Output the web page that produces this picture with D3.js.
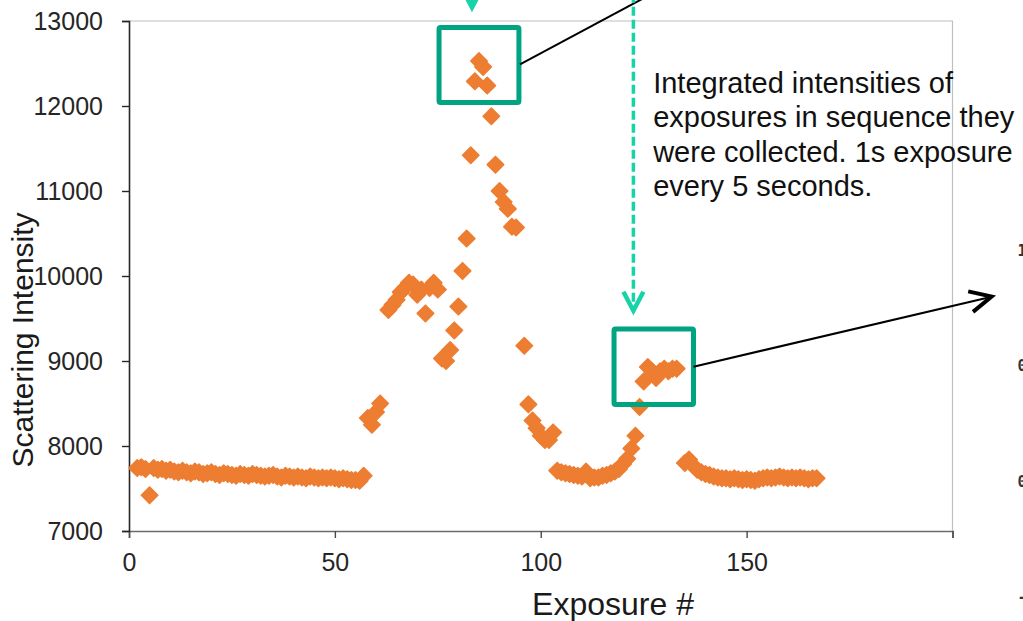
<!DOCTYPE html>
<html><head><meta charset="utf-8">
<script src="https://cdn.jsdelivr.net/npm/d3@7"></script>
<style>html,body{margin:0;padding:0;background:#fff;} svg{display:block;}</style>
</head><body>
<svg id="chart" width="1023" height="621"></svg>
<script>
// ---------- data ----------
const exposures = [
  2,3,4,5,6,7,8,9,10,11,12,13,14,15,16,17,18,19,20,21,22,23,24,25,26,27,28,29,30,
  31,32,33,34,35,36,37,38,39,40,41,42,43,44,45,46,47,48,49,50,51,52,53,54,55,56,57,
  58,59,60,61,63,64,65,66,67,68,69,70,71,72,73,74,75,76,77,78,79,80,81,82,83,84,85,
  86,87,88,89,90,91,92,93,94,96,97,98,99,100,101,102,103,
  104,105,106,107,108,109,110,111,112,113,114,115,116,117,118,119,120,121,122,123,
  124,125,126,127,128,129,130,131,132,133,
  135,136,137,138,139,140,141,142,143,144,145,146,147,148,149,150,151,152,153,154,
  155,156,157,158,159,160,161,162,163,164,165,166,167
];
const intensities = [
  7740,7750,7730,7420,7740,7720,7730,7710,7720,7700,7690,7710,7690,7680,7700,7690,7670,7680,7690,7670,7660,7680,7670,7660,7650,7670,7660,7650,7670,
  7660,7650,7640,7650,7660,7640,7630,7650,7640,7630,7640,7630,7620,7640,7630,7620,7630,7620,7630,7620,7610,7620,7610,7600,7600,7590,7650,
  8330,8250,8400,8500,9600,9660,9720,9810,9860,9920,9900,9780,9840,9560,9860,9920,9840,9030,9000,9130,9360,9640,10060,10440,11420,12290,12530,
  12460,12240,11880,11310,11000,10870,10790,10580,10570,9180,8490,8300,8210,8120,8070,8070,8160,
  7710,7690,7680,7670,7660,7650,7640,7700,7620,7630,7630,7650,7660,7680,7700,7730,7790,7850,7970,8120,
  8460,8760,8930,8880,8800,8880,8910,8880,8910,8910,
  7800,7840,7770,7720,7690,7670,7660,7640,7630,7620,7620,7610,7620,7610,7600,7610,7600,7590,7610,7620,
  7630,7620,7630,7640,7630,7620,7630,7620,7630,7620,7610,7620,7620
];
const xTicks = [0, 50, 100, 150, 200];
const xTickLabels = ["0", "50", "100", "150", ""];
const yTicks = [7000, 8000, 9000, 10000, 11000, 12000, 13000];
const xTitle = "Exposure #";
const yTitle = "Scattering Intensity";
const noteLines = ["Integrated intensities of", "exposures in sequence they", "were collected. 1s exposure", "every 5 seconds."];
const sideLabels = ["1", "0", "0", "-"];

// annotation geometry in data units
const boxes = [
  {x0: 75.3, x1: 94.7, y0: 12041, y1: 12924},
  {x0: 117.8, x1: 137.1, y0: 8488, y1: 9376}
];
const pointerLine = {x0: 94.96, y0: 12490, x1: 138.7, y1: 13624};
const pointerArrow = {x0: 137.1, y0: 8933, x1: 209.5, y1: 9757};
const cyanArrows = [
  {x: 122.5, yTop: 13320, yTip: 9580},
  {x: 83.3, yTop: 13600, yTip: 13147}
];
const note = {x: 127.3, y: 12157};
const sideLabelX = 215.8;
const sideLabelY = [10230, 8880, 7515, 6160];

// ---------- layout ----------
const svg = d3.select("#chart");
const x = d3.scaleLinear().domain([0, 200]).range([129, 952.5]);
const y = d3.scaleLinear().domain([7000, 13000]).range([531, 21]);
const font = "'Liberation Sans', Arial, sans-serif";

// plot border (top & right)
svg.append("path")
  .attr("d", `M${x(0)},${y(13000)}H${x(200)}V${y(7000)}`)
  .attr("fill", "none").attr("stroke", "#bfbfbf").attr("stroke-width", 1.2);

// axes
const xAxis = svg.append("g").attr("transform", `translate(0,${y(7000)})`)
  .call(d3.axisBottom(x).tickValues(xTicks).tickSize(7).tickPadding(15).tickFormat((d, i) => xTickLabels[i]));
xAxis.select(".domain").attr("stroke", "#6b6b6b").attr("stroke-width", 1.6);
xAxis.selectAll(".tick line").attr("stroke", "#4a4a4a").attr("stroke-width", 1.4);
xAxis.selectAll("text").attr("font-family", font).attr("font-size", 25).attr("fill", "#262626");

const yAxis = svg.append("g").attr("transform", `translate(${x(0)},0)`)
  .call(d3.axisLeft(y).tickValues(yTicks).tickSize(7).tickPadding(19).tickFormat(d3.format("d")));
yAxis.select(".domain").attr("stroke", "#262626").attr("stroke-width", 1.6);
yAxis.selectAll(".tick line").attr("stroke", "#262626").attr("stroke-width", 1.4);
yAxis.selectAll("text").attr("font-family", font).attr("font-size", 25).attr("fill", "#262626");

// titles
svg.append("text").attr("x", 613).attr("y", 615).attr("text-anchor", "middle")
  .attr("font-family", font).attr("font-size", 32).attr("fill", "#1a1a1a").text(xTitle);
svg.append("text").attr("transform", "translate(33,340) rotate(-90)").attr("text-anchor", "middle")
  .attr("font-family", font).attr("font-size", 30).attr("fill", "#1a1a1a").text(yTitle);

// data points (diamonds)
const diamond = { draw(ctx, size) { const r = Math.sqrt(size / 2);
  ctx.moveTo(0, -r); ctx.lineTo(r, 0); ctx.lineTo(0, r); ctx.lineTo(-r, 0); ctx.closePath(); } };
const pts = exposures.map((e, i) => ({e, v: intensities[i]}));
svg.append("g").selectAll("path").data(pts).join("path")
  .attr("transform", d => `translate(${x(d.e)},${y(d.v)})`)
  .attr("d", d3.symbol().type(diamond).size(2 * 8.2 * 8.2))
  .attr("fill", "#ED7D31").attr("stroke", "#ED7D31").attr("stroke-width", 1.6).attr("stroke-linejoin", "round");

// side labels (clipped neighbour chart at the right edge)
svg.append("g").selectAll("text").data(sideLabels).join("text")
  .attr("x", x(sideLabelX)).attr("y", (d, i) => y(sideLabelY[i]))
  .attr("font-family", "'DejaVu Sans Mono', monospace").attr("font-weight", "bold")
  .attr("font-size", 15).attr("fill", "#333").text(d => d);

// green boxes
svg.append("g").selectAll("rect").data(boxes).join("rect")
  .attr("x", d => x(d.x0)).attr("y", d => y(d.y1))
  .attr("width", d => x(d.x1) - x(d.x0)).attr("height", d => y(d.y0) - y(d.y1))
  .attr("rx", 1.5).attr("fill", "none").attr("stroke", "#00A481").attr("stroke-width", 5);

// pointer line from box 1
svg.append("line").attr("x1", x(pointerLine.x0)).attr("y1", y(pointerLine.y0))
  .attr("x2", x(pointerLine.x1)).attr("y2", y(pointerLine.y1))
  .attr("stroke", "#000").attr("stroke-width", 2);

// pointer arrow from box 2
{
  const x0 = x(pointerArrow.x0), y0 = y(pointerArrow.y0), x1 = x(pointerArrow.x1), y1 = y(pointerArrow.y1);
  svg.append("line").attr("x1", x0).attr("y1", y0).attr("x2", x1 - 2).attr("y2", y1 + 0.5)
    .attr("stroke", "#000").attr("stroke-width", 2);
  const ang = Math.atan2(y0 - y1, x0 - x1), L = 24, a = 26 * Math.PI / 180;
  const p1 = [x1 + L * Math.cos(ang + a), y1 + L * Math.sin(ang + a)];
  const p2 = [x1 + L * Math.cos(ang - a), y1 + L * Math.sin(ang - a)];
  svg.append("path").attr("d", `M${p1}L${x1},${y1}L${p2}`)
    .attr("fill", "none").attr("stroke", "#000").attr("stroke-width", 4).attr("stroke-linejoin", "miter");
}

// cyan dashed arrows
cyanArrows.forEach(c => {
  const cx = x(c.x), ty = y(c.yTop), tip = y(c.yTip);
  svg.append("line").attr("x1", cx).attr("y1", ty).attr("x2", cx).attr("y2", tip - 3)
    .attr("stroke", "#17D3A8").attr("stroke-width", 3.5).attr("stroke-dasharray", "9,4");
  svg.append("path").attr("d", `M${cx - 10},${tip - 20}L${cx},${tip - 1}L${cx + 10},${tip - 20}`)
    .attr("fill", "none").attr("stroke", "#17D3A8").attr("stroke-width", 4.5).attr("stroke-linejoin", "miter");
});

// note text
svg.append("g").selectAll("text").data(noteLines).join("text")
  .attr("x", x(note.x)).attr("y", (d, i) => y(note.y) + i * 34.5)
  .attr("font-family", font).attr("font-size", 29).attr("fill", "#111").text(d => d);
</script>
</body></html>
